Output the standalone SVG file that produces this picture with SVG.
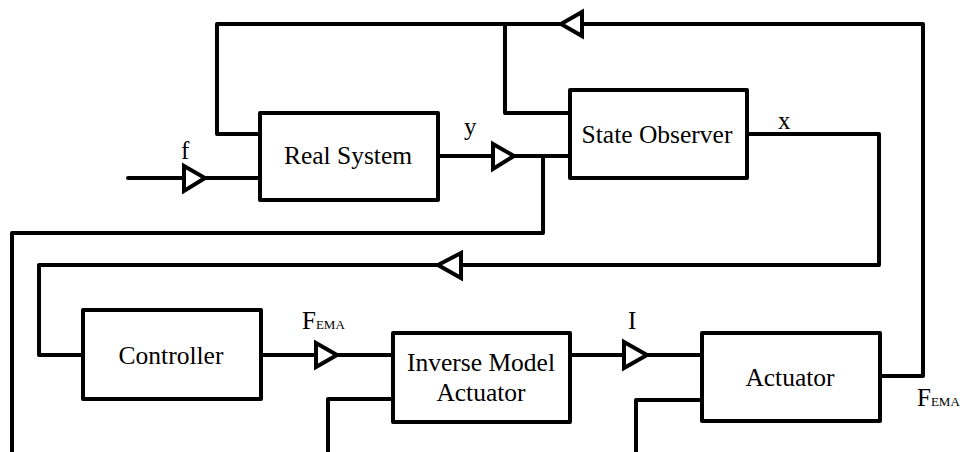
<svg xmlns="http://www.w3.org/2000/svg" width="960" height="452" viewBox="0 0 960 452">
<style>
.box{fill:#fff;stroke:#000;stroke-width:4;stroke-linejoin:round}
.ln{fill:none;stroke:#000;stroke-width:4;stroke-linejoin:round;stroke-linecap:round}
.tri{fill:#fff;stroke:#000;stroke-width:4;stroke-linejoin:miter}
.sub{font-size:13px}
.nt{font-family:"Liberation Serif","Times New Roman",serif !important;font-size:25.5px;text-anchor:middle;fill:#000}
</style>
<rect width="960" height="452" fill="#fff"/>
<g id="connectors">
<path class="ln" d="M128,178 H260"/>
<path class="ln" d="M438,156 H570"/>
<path class="ln" d="M543,156 V233 H12 V454"/>
<path class="ln" d="M880,376 H923 V24 H217 V134 H260"/>
<path class="ln" d="M505,24 V113 H570"/>
<path class="ln" d="M747,134 H879 V265 H39 V355 H83"/>
<path class="ln" d="M261,355 H393"/>
<path class="ln" d="M570,355 H702"/>
<path class="ln" d="M393,399 H328 V454"/>
<path class="ln" d="M702,400 H636 V454"/>
<polygon class="tri" points="184,166 205,178 184,191"/>
<polygon class="tri" points="493,144 514,156 493,169"/>
<polygon class="tri" points="561,24 582,12 582,36"/>
<polygon class="tri" points="438,265 461,253 461,278"/>
<polygon class="tri" points="316,343 337,355 316,367"/>
<polygon class="tri" points="624,342 647,355 624,368"/>
<g font-family="Liberation Serif, serif" font-size="25" fill="#000">
<text x="181" y="159">f</text>
<text x="464" y="135">y</text>
<text x="778" y="129">x</text>
<text x="628" y="329">I</text>
<text x="302" y="329">F<tspan class="sub">EMA</tspan></text>
<text x="917" y="406">F<tspan class="sub">EMA</tspan></text>
</g>
</g>
<g id="real-system">
<rect class="box" x="260" y="113" width="178" height="87"/>
<text class="nt" x="348" y="164" style="font-family:'Liberation Serif',serif !important">Real System</text>
</g>
<g id="state-observer">
<rect class="box" x="570" y="90" width="177" height="88"/>
<text class="nt" x="657" y="143">State Observer</text>
</g>
<g id="controller">
<rect class="box" x="83" y="310" width="178" height="89"/>
<text class="nt" x="171" y="364">Controller</text>
</g>
<g id="inverse-model-actuator">
<rect class="box" x="393" y="333" width="177" height="89"/>
<text class="nt" x="481" y="371">Inverse Model</text>
<text class="nt" x="481" y="401">Actuator</text>
</g>
<g id="actuator">
<rect class="box" x="702" y="333" width="178" height="88"/>
<text class="nt" x="790" y="386">Actuator</text>
</g>
</svg>
